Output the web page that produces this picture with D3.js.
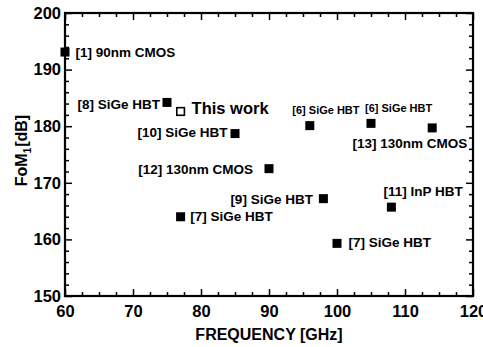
<!DOCTYPE html>
<html>
<head>
<meta charset="utf-8">
<script src="https://cdn.jsdelivr.net/npm/d3@7"></script>
<style>
  html, body { margin: 0; padding: 0; background: #fff; }
  svg { display: block; }
  svg text { font-family: "Liberation Sans", Arial, Helvetica, sans-serif !important; font-weight: 700 !important; fill: #000; }
</style>
</head>
<body>
<svg id="chart" width="483" height="347"></svg>
<script>
// ---- data ----
const labels = ["[1] 90nm CMOS", "[8] SiGe HBT", "This work", "[10] SiGe HBT", "[6] SiGe HBT", "[6] SiGe HBT",
                "[13] 130nm CMOS", "[12] 130nm CMOS", "[9] SiGe HBT", "[7] SiGe HBT", "[11] InP HBT", "[7] SiGe HBT"];
const frequency = [60, 75, 77, 85, 96, 105, 114, 90, 98, 77, 108, 100];
const fom = [193.1, 184.2, 182.6, 178.7, 180.1, 180.5, 179.7, 172.5, 167.2, 164.0, 165.7, 159.3];
const isThisWork = [false, false, true, false, false, false, false, false, false, false, false, false];
const xTicks = [60, 70, 80, 90, 100, 110, 120];
const yTicks = [150, 160, 170, 180, 190, 200];

// ---- label layout (anchor, dx, dy relative to marker, font size) ----
const labelLayout = [
  ["start", 10.5, 5, 13.5], ["end", -7, 6.5, 13.5], ["start", 11, 3, 16.5], ["end", -7.5, 3.5, 13.5],
  ["start", -17.5, -11.3, 11], ["start", -6, -11.3, 11], ["end", 35, 20.6, 13.5], ["end", -16, 5, 13.5],
  ["end", -10.5, 5.5, 13.5], ["start", 9.7, 4.4, 13.5], ["start", -8, -11, 13.5], ["start", 11.5, 3.7, 13.5]
];

const svg = d3.select("#chart");
const m = { left: 65, right: 473, top: 13, bottom: 296 };
const x = d3.scaleLinear().domain([60, 120]).range([m.left, m.right]);
const y = d3.scaleLinear().domain([150, 200]).range([m.bottom, m.top]);

const xMinor = d3.range(60, 120.01, 2.5).filter(v => v % 10 !== 0);
const yMinor = d3.range(150, 200.01, 2).filter(v => v % 10 !== 0);

function styleAxis(g) {
  g.select(".domain").remove();
  g.selectAll("line").attr("stroke", "#000").attr("stroke-width", 1.5);
}

// bottom major
svg.append("g").attr("transform", `translate(0,${m.bottom})`)
  .call(d3.axisBottom(x).tickValues(xTicks).tickSizeInner(-7).tickSizeOuter(0).tickPadding(9).tickFormat(d3.format("d")))
  .call(styleAxis)
  .call(g => g.selectAll("text").style("font-size", "16.5px").attr("dy", "0.71em"));
svg.append("g").attr("transform", `translate(0,${m.bottom})`)
  .call(d3.axisBottom(x).tickValues(xMinor).tickSizeInner(-4).tickSizeOuter(0).tickFormat(""))
  .call(styleAxis);
// top
svg.append("g").attr("transform", `translate(0,${m.top})`)
  .call(d3.axisTop(x).tickValues(xTicks).tickSizeInner(-7).tickSizeOuter(0).tickFormat(""))
  .call(styleAxis);
svg.append("g").attr("transform", `translate(0,${m.top})`)
  .call(d3.axisTop(x).tickValues(xMinor).tickSizeInner(-4).tickSizeOuter(0).tickFormat(""))
  .call(styleAxis);
// left
svg.append("g").attr("transform", `translate(${m.left},0)`)
  .call(d3.axisLeft(y).tickValues(yTicks).tickSizeInner(-7).tickSizeOuter(0).tickPadding(4).tickFormat(d3.format("d")))
  .call(styleAxis)
  .call(g => g.selectAll("text").style("font-size", "16.5px"));
svg.append("g").attr("transform", `translate(${m.left},0)`)
  .call(d3.axisLeft(y).tickValues(yMinor).tickSizeInner(-4).tickSizeOuter(0).tickFormat(""))
  .call(styleAxis);
// right
svg.append("g").attr("transform", `translate(${m.right},0)`)
  .call(d3.axisRight(y).tickValues(yTicks).tickSizeInner(-7).tickSizeOuter(0).tickFormat(""))
  .call(styleAxis);
svg.append("g").attr("transform", `translate(${m.right},0)`)
  .call(d3.axisRight(y).tickValues(yMinor).tickSizeInner(-4).tickSizeOuter(0).tickFormat(""))
  .call(styleAxis);

// frame
svg.append("rect")
  .attr("x", m.left).attr("y", m.top)
  .attr("width", m.right - m.left).attr("height", m.bottom - m.top)
  .attr("fill", "none").attr("stroke", "#000").attr("stroke-width", 2.2);

// points
const pts = labels.map((l, i) => ({ label: l, f: frequency[i], v: fom[i], open: isThisWork[i], lay: labelLayout[i] }));

svg.append("g").selectAll("rect").data(pts).join("rect")
  .attr("x", d => x(d.f) - (d.open ? 3.8 : 4.5))
  .attr("y", d => y(d.v) - (d.open ? 3.8 : 4.5))
  .attr("width", d => d.open ? 7.6 : 9)
  .attr("height", d => d.open ? 7.6 : 9)
  .attr("fill", d => d.open ? "#fff" : "#000")
  .attr("stroke", "#000")
  .attr("stroke-width", d => d.open ? 1.6 : 0);

svg.append("g").selectAll("text").data(pts).join("text")
  .attr("x", d => x(d.f) + d.lay[1])
  .attr("y", d => y(d.v) + d.lay[2])
  .attr("text-anchor", d => d.lay[0])
  .style("font-size", d => d.lay[3] + "px")
  .text(d => d.label);

// axis titles
svg.append("text")
  .attr("x", (m.left + m.right) / 2).attr("y", 340)
  .attr("text-anchor", "middle")
  .style("font-size", "16px")
  .text("FREQUENCY [GHz]");

const yl = svg.append("text")
  .attr("transform", `translate(27,${(m.top + m.bottom) / 2 - 4}) rotate(-90)`)
  .attr("text-anchor", "middle")
  .style("font-size", "16px");
yl.append("tspan").text("FoM");
yl.append("tspan").attr("dy", 4).style("font-size", "10px").text("1");
yl.append("tspan").attr("dy", -4).attr("dx", 1).text("[dB]");
</script>
</body>
</html>
